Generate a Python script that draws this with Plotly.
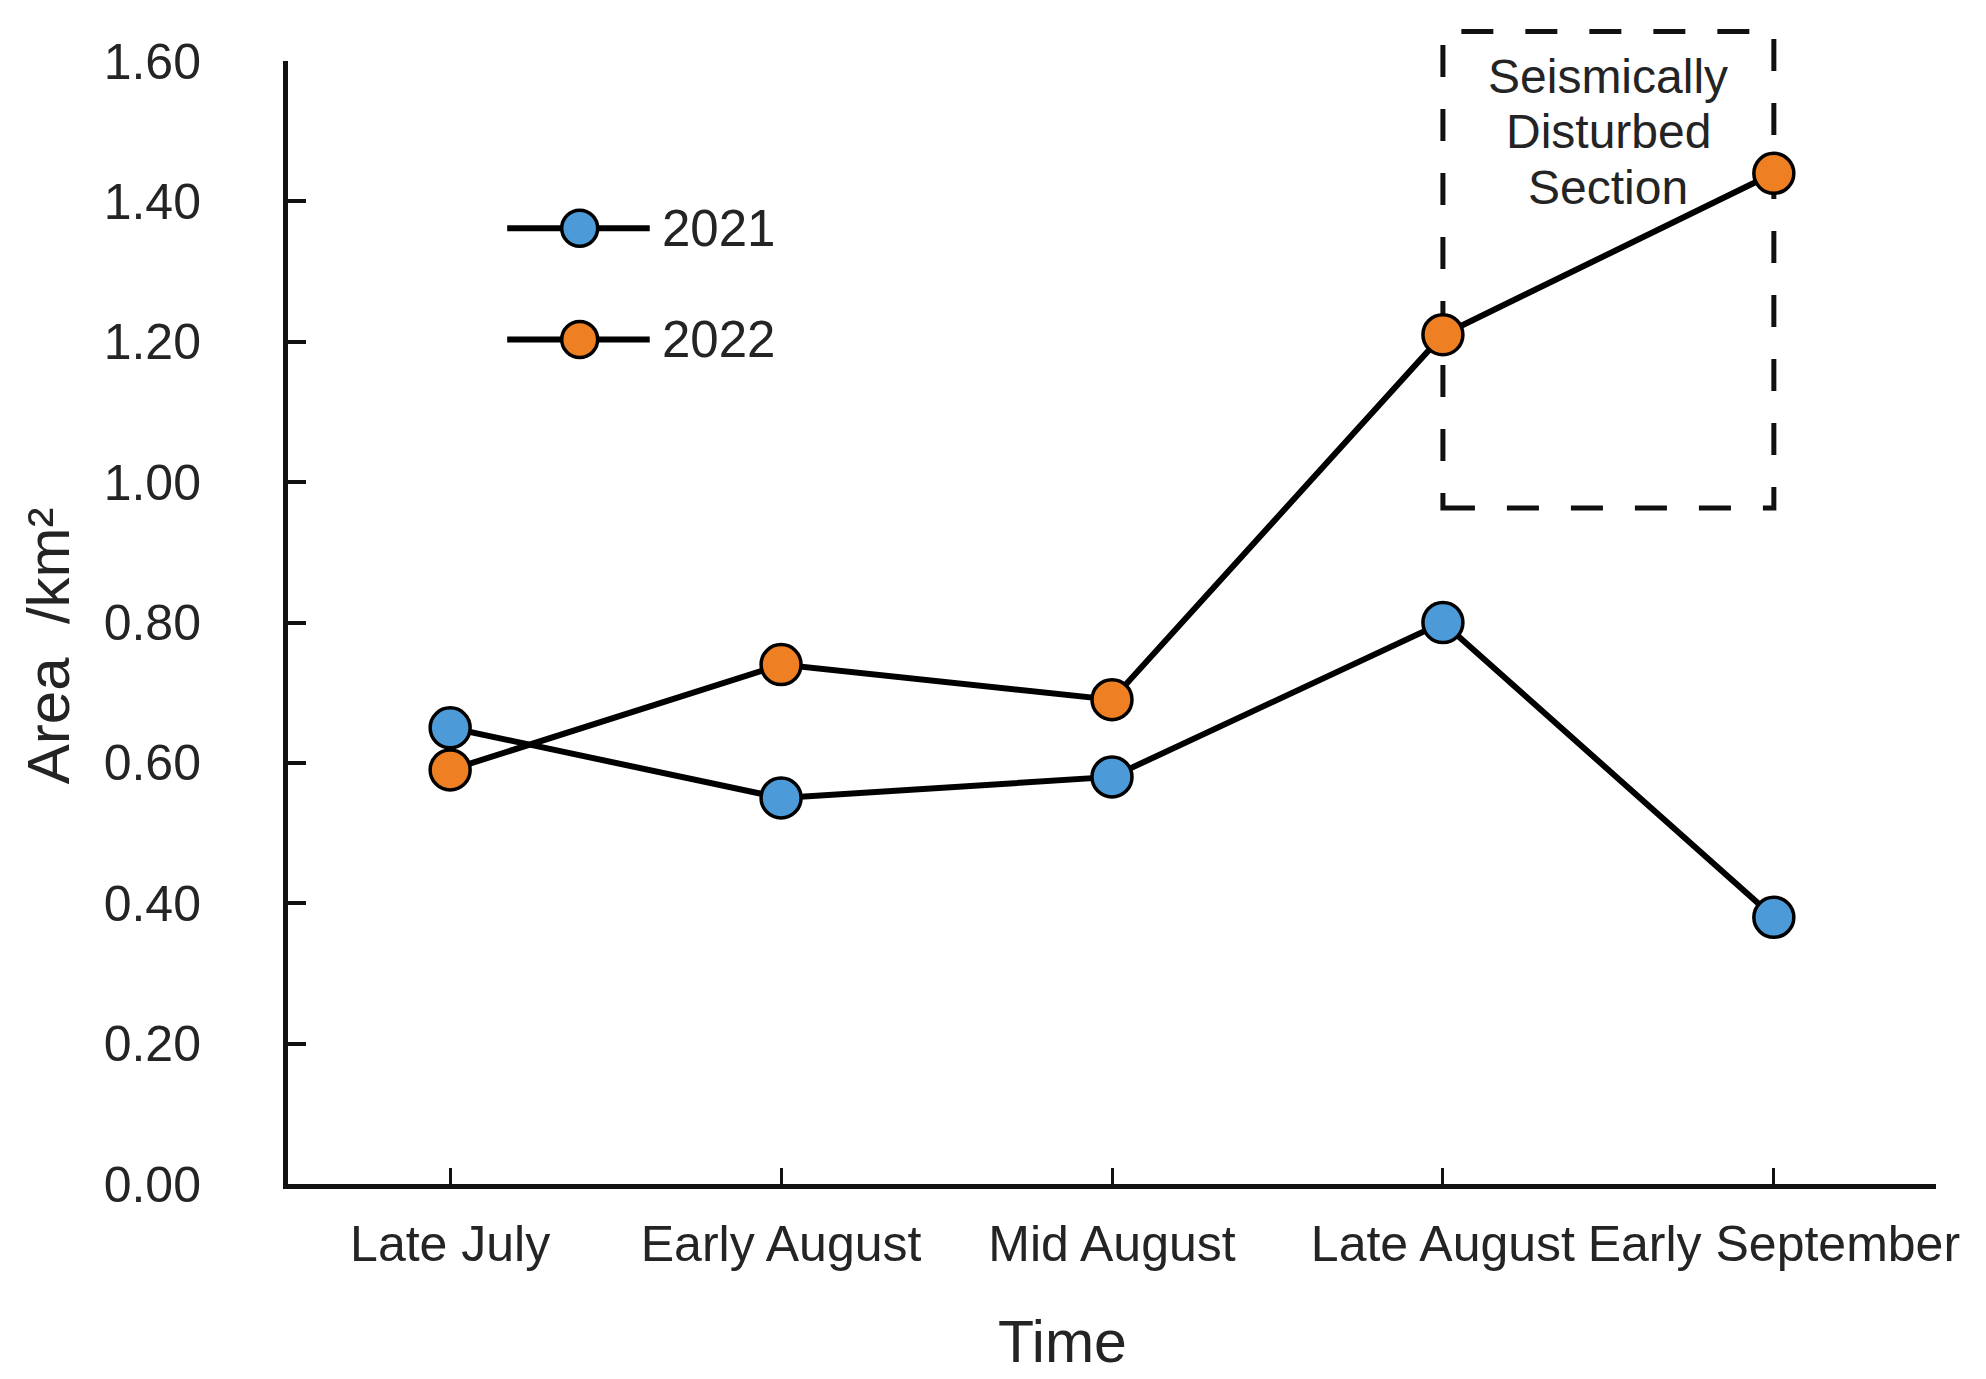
import plotly.graph_objects as go

categories = ["Late July", "Early August", "Mid August", "Late August", "Early September"]
series_names = ["2021", "2022"]
values_2021 = [0.65, 0.55, 0.58, 0.80, 0.38]
values_2022 = [0.59, 0.74, 0.69, 1.21, 1.44]
colors = ["#4C9BD8", "#EE7F22"]
y_ticks = [0.0, 0.2, 0.4, 0.6, 0.8, 1.0, 1.2, 1.4, 1.6]
box_label = ["Seismically", "Disturbed", "Section"]
box_x = [3, 4]          # category index span of highlighted section
box_y = [0.963, 1.642]  # value span of highlighted section

W, H = 1986, 1379
Y_MAX = 1.6
X_RANGE = [-0.49, 4.49]
FONT = "Liberation Sans, Arial, sans-serif"
TXT = "#242424"

x_idx = list(range(len(categories)))
fig = go.Figure()
for name, vals, col in zip(series_names, [values_2021, values_2022], colors):
    fig.add_trace(go.Scatter(
        x=x_idx, y=vals, mode="lines+markers", name=name, showlegend=False,
        line=dict(color="#000000", width=6),
        marker=dict(size=40, color=col, line=dict(color="#000000", width=3.5)),
    ))

# dashed box around seismically disturbed section
fig.add_shape(type="rect", xref="x", yref="paper",
              x0=box_x[0], x1=box_x[1], y0=box_y[0] / Y_MAX, y1=box_y[1] / Y_MAX,
              line=dict(color="#111111", width=5, dash="32px,32px"), layer="below")
for i, t in enumerate(box_label):
    fig.add_annotation(x=sum(box_x) / 2, xref="x", y=0.9858 - i * 0.049, yref="paper",
                       text=t, showarrow=False, borderpad=0,
                       font=dict(size=48, color=TXT, family=FONT),
                       xanchor="center", yanchor="middle")

# manual legend
leg_y = [0.851, 0.752]
for name, col, ly in zip(series_names, colors, leg_y):
    fig.add_shape(type="line", xref="paper", yref="paper", x0=0.133, x1=0.2195, y0=ly, y1=ly,
                  line=dict(color="#000000", width=6))
    fig.add_shape(type="circle", xref="paper", yref="paper", xsizemode="pixel", ysizemode="pixel",
                  xanchor=0.177, yanchor=ly, x0=-18, x1=18, y0=-18, y1=18,
                  fillcolor=col, line=dict(color="#000000", width=3.5))
    fig.add_annotation(x=0.226, y=ly, xref="paper", yref="paper", text=name, showarrow=False,
                       xanchor="left", yanchor="middle", font=dict(size=51, color=TXT, family=FONT))

# axis titles
fig.add_annotation(x=0.4697, y=-0.1407, xref="paper", yref="paper", text="Time", showarrow=False,
                   xanchor="center", yanchor="middle", font=dict(size=59, color=TXT, family=FONT))
fig.add_annotation(x=-0.1665, y=0.479, xref="paper", yref="paper", text="Area\u00a0 /km²",
                   showarrow=False, textangle=-90, xanchor="left", yanchor="middle", borderpad=0,
                   font=dict(size=60, color=TXT, family=FONT))

fig.update_layout(
    width=W, height=H,
    margin=dict(l=280, r=58, t=53, b=203, autoexpand=False),
    paper_bgcolor="white", plot_bgcolor="white",
    font=dict(family=FONT, color=TXT),
    showlegend=False,
)
fig.update_xaxes(
    range=X_RANGE, tickmode="array", tickvals=x_idx + [X_RANGE[1]], ticktext=categories + [""],
    showgrid=False, zeroline=False, showline=True, linecolor="#111111", linewidth=5,
    ticks="inside", ticklen=16, tickwidth=3, tickcolor="#111111",
    tickfont=dict(size=50, color=TXT, family=FONT), ticklabelstandoff=12,
)
fig.update_yaxes(
    range=[0, Y_MAX], tickmode="array", tickvals=y_ticks, tickformat=".2f",
    showgrid=False, zeroline=False, showline=True, linecolor="#111111", linewidth=5,
    ticks="inside", ticklen=18, tickwidth=4, tickcolor="#111111",
    tickfont=dict(size=50, color=TXT, family=FONT), ticklabelstandoff=72,
)
fig.write_html("out.html")
